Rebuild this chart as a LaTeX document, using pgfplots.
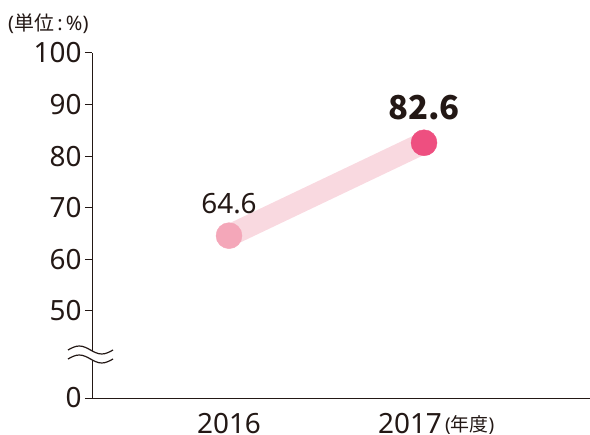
\documentclass[border=0pt]{standalone}
\usepackage{pgfplots}
\pgfplotsset{compat=1.18}
\usepackage{fontspec}
\setmainfont{Noto Sans}
\newfontfamily\jp{Noto Sans CJK JP}
\definecolor{txt}{HTML}{231815}
\definecolor{band}{HTML}{F9D9E0}
\definecolor{cone}{HTML}{F4A7B9}
\definecolor{ctwo}{HTML}{EE4F80}
\begin{document}
\begin{tikzpicture}
\useasboundingbox (-92bp,-37bp) rectangle (498bp,398bp);
\begin{axis}[
  at={(0,0)}, anchor=south west,
  scale only axis, width=498bp, height=345bp,
  xmin=-0.7026, xmax=1.851, ymin=33.14, ymax=100,
  axis lines=left,
  axis line style={-, draw=txt, line width=1bp},
  ytick={33.14,50,60,70,80,90,100},
  yticklabels={0,50,60,70,80,90,100},
  tick align=outside,
  major tick length=7bp,
  y tick style={draw=txt, line width=1bp},
  xtick={0,0.928},
  xticklabels={2016,{2017\rlap{\raisebox{1.5bp}{\fontsize{19}{19}\selectfont\,(\jp 年度\rm)}}}},
  x tick style={draw=none},
  /pgf/number format/assume math mode=true,
  tick label style={font=\fontsize{28}{28}\selectfont, text=txt},
  xticklabel style={yshift=-4.5bp},
  clip=false,
]
\addplot[band, line width=22bp, line cap=butt] coordinates {(0,64.6) (1,82.6)};
\addplot[only marks, mark=*, mark size=13bp, cone, mark options={draw=none, fill=cone},
  point meta=explicit symbolic, nodes near coords,
  every node near coord/.style={anchor=center, yshift=32bp, text=txt, font=\fontsize{28}{28}\selectfont}]
  coordinates {(0,64.6) [64.6]};
\addplot[only marks, mark=*, mark size=13bp, ctwo, mark options={draw=none, fill=ctwo},
  point meta=explicit symbolic, nodes near coords,
  every node near coord/.style={anchor=center, yshift=35bp, text=txt, font=\jp\bfseries\fontsize{33}{33}\selectfont}]
  coordinates {(1,82.6) [82.6]};
\end{axis}
% axis break symbol
\fill[white] (-24bp,39bp) sin (-12.75bp,43bp) cos (-1.5bp,39bp) sin (9.75bp,35bp) cos (21bp,39bp)
  -- (21bp,48bp) sin (9.75bp,44bp) cos (-1.5bp,48bp) sin (-12.75bp,52bp) cos (-24bp,48bp) -- cycle;
\draw[txt, line width=1.2bp] (-24bp,48bp) sin (-12.75bp,52bp) cos (-1.5bp,48bp) sin (9.75bp,44bp) cos (21bp,48bp);
\draw[txt, line width=1.2bp] (-24bp,39bp) sin (-12.75bp,43bp) cos (-1.5bp,39bp) sin (9.75bp,35bp) cos (21bp,39bp);
\node[anchor=west, text=txt, font=\fontsize{20}{20}\selectfont, inner sep=0pt] at (-84bp,374bp) {({\jp 単位}\,:\,\%)};
\end{tikzpicture}
\end{document}
